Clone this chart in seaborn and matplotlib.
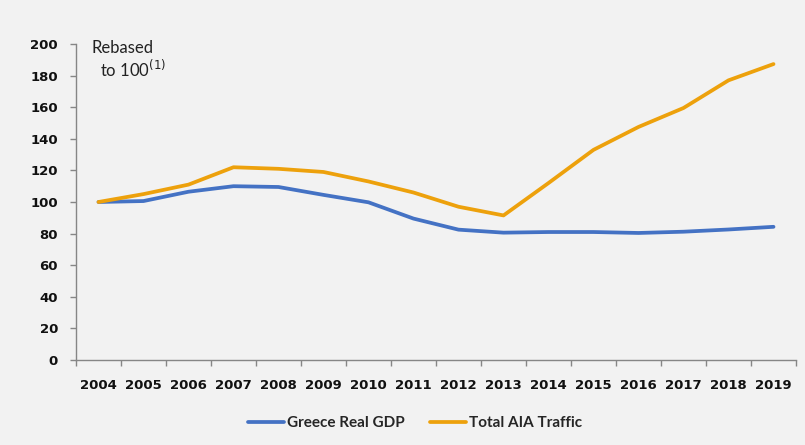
import numpy as np
import pandas as pd
import matplotlib
matplotlib.use("Agg")
import matplotlib.pyplot as plt
import seaborn as sns

# values (rebased, 2004 = 100)
years = list(range(2004, 2020))
gdp = [100, 100.6, 106.5, 110, 109.5, 104.5, 99.8, 89.5, 82.5, 80.6, 81, 81, 80.4, 81.2, 82.6, 84.3]
traffic = [100, 105, 111, 122, 121, 119, 113, 106, 97, 91.5, 112, 133, 147.5, 159.5, 177, 187.3]
series_names = ['Greece Real GDP', 'Total AIA Traffic']
colors = ['#4472C4', '#EDA10C']

df = pd.DataFrame({
    'year': years * 2,
    'value': gdp + traffic,
    'series': [series_names[0]] * len(years) + [series_names[1]] * len(years),
})

sns.set_style('white')
bg = '#F2F2F2'
fig = plt.figure(figsize=(8.05, 4.45), dpi=100, facecolor=bg)
ax = fig.add_axes([76 / 805, 1 - 360 / 445, 720 / 805, 316 / 445], facecolor=bg)

sns.lineplot(data=df, x='year', y='value', hue='series', palette=colors,
             linewidth=2.7, ax=ax, legend=False, solid_capstyle='round',
             solid_joinstyle='round')

ax.set_xlim(2003.5, 2019.5)
ax.set_ylim(0, 200)
ax.set_xticks(years)
ax.set_xticks(np.arange(2003.5, 2020, 1), minor=True)
ax.set_yticks(range(0, 201, 20))
ax.set_xlabel('')
ax.set_ylabel('')

for s in ['top', 'right']:
    ax.spines[s].set_visible(False)
for s in ['left', 'bottom']:
    ax.spines[s].set_color('#868686')
    ax.spines[s].set_linewidth(1.0)

ax.tick_params(axis='x', which='major', bottom=True, length=0, pad=14)
ax.tick_params(axis='x', which='minor', bottom=True, length=4, width=1,
               color='#868686', direction='out')
ax.tick_params(axis='y', which='major', left=True, length=4, width=1,
               color='#868686', direction='out', pad=9)

for lbl in ax.get_xticklabels():
    lbl.set_family('DejaVu Sans')
    lbl.set_fontweight('bold')
    lbl.set_fontsize(9.5)
    lbl.set_color('#111111')
for lbl in ax.get_yticklabels():
    lbl.set_family('DejaVu Sans')
    lbl.set_fontweight('bold')
    lbl.set_fontsize(9.5)
    lbl.set_color('#111111')

# annotation in the top-left corner
fig.text(91 / 805, 1 - 48 / 445, 'Rebased', family='Lato', fontsize=12,
         color='#222222', va='center', ha='left')
fig.text(100 / 805, 1 - 69 / 445, 'to 100$^{(1)}$', family='Lato', fontsize=12,
         color='#222222', va='center', ha='left')

handles = [plt.Line2D([], [], color=c, linewidth=2.7) for c in colors]
leg = fig.legend(handles, series_names, loc='center', ncol=2,
                 bbox_to_anchor=(415 / 805, 1 - 423 / 445), frameon=False,
                 handlelength=2.4, handletextpad=0.2, columnspacing=1.6,
                 prop={'family': 'Lato', 'weight': 'bold', 'size': 11})

fig.savefig('out.png', dpi=100, facecolor=bg)
